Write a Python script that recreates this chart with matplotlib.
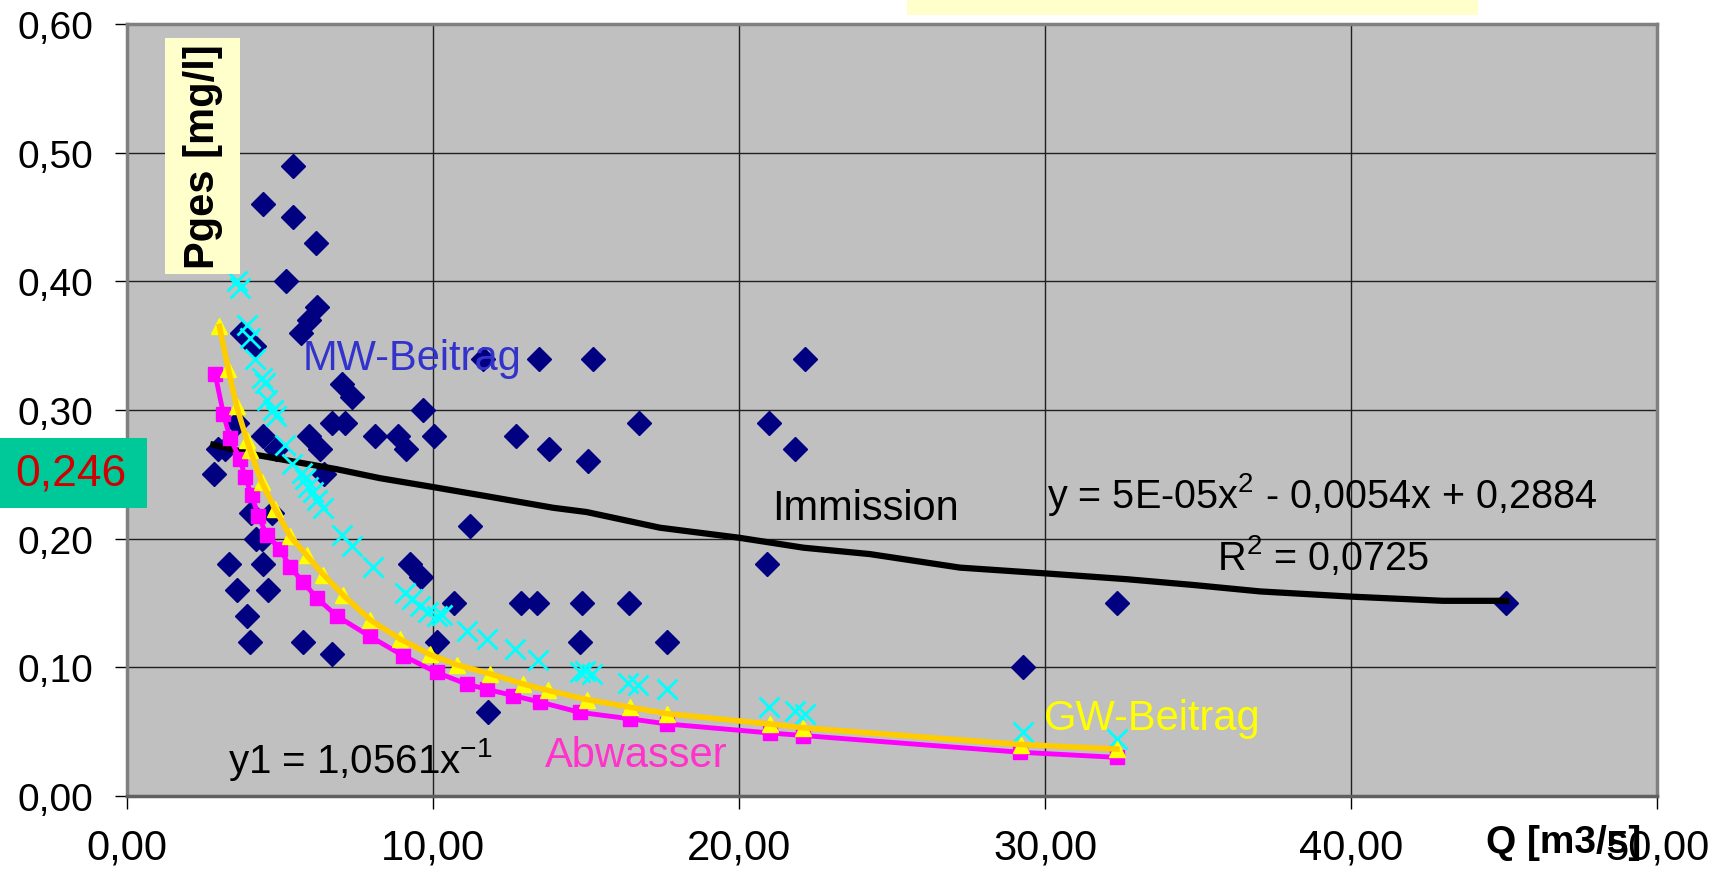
import numpy as np
import matplotlib.pyplot as plt
from matplotlib.patches import Rectangle
from matplotlib.ticker import FuncFormatter, MultipleLocator

plt.rcParams['font.family'] = ['Liberation Sans', 'DejaVu Sans']
plt.rcParams['mathtext.fontset'] = 'custom'
plt.rcParams['mathtext.rm'] = 'Liberation Sans'
plt.rcParams['mathtext.default'] = 'regular'

# Messwerte Immission (Q in m3/s, Pges in mg/l)
imm_q = [5.43, 4.43, 5.43, 6.18, 5.19, 6.20, 5.95, 5.69, 3.75, 4.16, 11.64, 13.46, 15.23, 22.17,
         7.04, 7.36, 9.68, 6.71, 7.12, 3.60, 16.73, 20.99, 4.45, 5.94, 8.10, 8.85, 10.04, 12.71,
         2.98, 3.20, 4.87, 6.30, 9.12, 13.80, 21.83, 15.06, 2.84, 6.44, 4.04, 4.75, 11.20, 4.20,
         4.40, 3.34, 4.45, 9.26, 20.90, 9.62, 3.59, 4.60, 10.70, 12.87, 13.39, 14.87, 16.39,
         32.36, 45.07, 3.93, 4.02, 5.75, 10.12, 14.80, 17.65, 6.69, 29.27, 11.79]
imm_p = [0.49, 0.46, 0.45, 0.43, 0.40, 0.38, 0.37, 0.36, 0.36, 0.35, 0.34, 0.34, 0.34, 0.34,
         0.32, 0.31, 0.30, 0.29, 0.29, 0.29, 0.29, 0.29, 0.28, 0.28, 0.28, 0.28, 0.28, 0.28,
         0.27, 0.27, 0.27, 0.27, 0.27, 0.27, 0.27, 0.26, 0.25, 0.25, 0.22, 0.22, 0.21, 0.20,
         0.20, 0.18, 0.18, 0.18, 0.18, 0.17, 0.16, 0.16, 0.15, 0.15, 0.15, 0.15, 0.15,
         0.15, 0.15, 0.14, 0.12, 0.12, 0.12, 0.12, 0.12, 0.11, 0.10, 0.065]

# Trendlinie Immission
trend_q = [2.82, 4.13, 5.43, 6.85, 8.27, 10.03, 11.75, 13.93, 15.02, 17.42, 19.98, 22.10, 24.28,
           27.22, 30.02, 32.67, 34.85, 37.03, 39.97, 43.00, 45.07]
trend_p = [0.273, 0.2655, 0.260, 0.254, 0.247, 0.240, 0.233, 0.224, 0.2207, 0.2085, 0.2008, 0.193,
           0.188, 0.1775, 0.173, 0.1685, 0.164, 0.159, 0.155, 0.1517, 0.1517]

# MW-Beitrag
mw_q = [3.58, 3.69, 3.91, 4.02, 4.18, 4.40, 4.51, 4.56, 4.78, 4.87, 5.16, 5.38, 5.71, 5.82, 5.93,
        6.09, 6.20, 6.39, 7.02, 7.34, 8.05, 9.08, 9.30, 9.58, 9.85, 10.12, 10.28, 11.10, 11.75,
        12.68, 13.44, 14.80, 14.97, 15.19, 16.38, 16.71, 17.64, 20.99, 21.83, 22.16, 29.27, 32.36]
mw_p = [0.400, 0.395, 0.366, 0.356, 0.340, 0.325, 0.321, 0.308, 0.300, 0.295, 0.273, 0.258, 0.251,
        0.246, 0.240, 0.236, 0.230, 0.224, 0.203, 0.194, 0.178, 0.158, 0.153, 0.148, 0.143, 0.140,
        0.141, 0.128, 0.122, 0.114, 0.106, 0.096, 0.097, 0.095, 0.088, 0.086, 0.083, 0.069, 0.066,
        0.064, 0.050, 0.044]

# Abwasser
abw_q = [2.88, 3.15, 3.37, 3.69, 3.86, 4.07, 4.29, 4.56, 5.00, 5.33, 5.76, 6.20, 6.85, 7.94, 9.03,
         10.12, 11.10, 11.75, 12.63, 13.50, 14.80, 16.44, 17.64, 21.00, 22.10, 29.19, 32.35]
abw_p = [0.328, 0.297, 0.278, 0.262, 0.248, 0.234, 0.218, 0.203, 0.192, 0.178, 0.166, 0.154, 0.140,
         0.124, 0.109, 0.096, 0.087, 0.083, 0.078, 0.073, 0.065, 0.060, 0.056, 0.049, 0.047, 0.034,
         0.030]

# GW-Beitrag
gw_q = [3.02, 3.31, 3.58, 3.91, 4.02, 4.40, 4.84, 5.33, 5.87, 6.42, 7.07, 7.94, 8.92, 9.90, 10.77,
        11.86, 12.95, 13.77, 15.02, 16.44, 17.64, 21.00, 22.10, 29.20, 32.35]
gw_p = [0.365, 0.332, 0.303, 0.277, 0.269, 0.244, 0.223, 0.202, 0.187, 0.172, 0.156, 0.137, 0.122,
        0.110, 0.102, 0.095, 0.087, 0.082, 0.075, 0.069, 0.064, 0.056, 0.053, 0.040, 0.0365]

W, H = 1719, 878
fig = plt.figure(figsize=(W / 100, H / 100), dpi=100)
ax = fig.add_axes([127 / W, 1 - 797 / H, (1657 - 127) / W, (797 - 25) / H])
ax.set_facecolor('#C0C0C0')
ax.set_xlim(0, 50)
ax.set_ylim(0, 0.6)
ax.xaxis.set_major_locator(MultipleLocator(10))
ax.yaxis.set_major_locator(MultipleLocator(0.1))
ax.xaxis.set_major_formatter(FuncFormatter(lambda v, p: f"{v:.2f}".replace('.', ',')))
ax.yaxis.set_major_formatter(FuncFormatter(lambda v, p: f"{v:.2f}".replace('.', ',')))
ax.grid(True, color='#202020', linewidth=1.0)
ax.set_axisbelow(True)
for s in ax.spines.values():
    s.set_color('#808080')
    s.set_linewidth(2.5)
ax.spines['bottom'].set_color('#606060')
ax.tick_params(axis='both', direction='out', length=9, width=1, color='black')
ax.tick_params(axis='y', pad=15, labelsize=28)
ax.tick_params(axis='x', pad=14, labelsize=30)

# Datenreihen
ax.plot(imm_q, imm_p, ls='none', marker='D', ms=12, color='#000080', zorder=3)
ax.plot(trend_q, trend_p, color='black', lw=4.5, zorder=4)
ax.plot(mw_q, mw_p, ls='none', marker='x', ms=14, mew=2, color='#00FFFF', zorder=5)
ax.plot(abw_q, abw_p, ls='none', marker='s', ms=10, color='#FF00FF', zorder=6)
ax.plot(abw_q, abw_p, color='#FF00FF', lw=3.5, zorder=6)
ax.plot(gw_q, gw_p, ls='none', marker='^', ms=12, color='#FFFF00', zorder=7)
ax.plot(gw_q, gw_p, color='#FFCC00', lw=4, zorder=7)

# Beschriftungen
ax.text(5.75, 0.3315, 'MW-Beitrag', color='#3333CC', fontsize=30, zorder=8)
ax.text(21.08, 0.215, 'Immission', color='black', fontsize=30, zorder=8)
ax.text(30.07, 0.2244, 'y = 5E-05x$^{2}$ - 0,0054x + 0,2884', color='black', fontsize=28.5, zorder=8)
ax.text(35.62, 0.1762, 'R$^{2}$ = 0,0725', color='black', fontsize=28.5, zorder=8)
ax.text(3.3, 0.0186, 'y1 = 1,0561x$^{-1}$', color='black', fontsize=29, zorder=8)
ax.text(13.66, 0.0233, 'Abwasser', color='#FF33CC', fontsize=30, zorder=8)
ax.text(29.97, 0.052, 'GW-Beitrag', color='#FFFF00', fontsize=30, zorder=8)

# Kästen
fig.add_artist(Rectangle((907 / W, 1 - 16 / H), (1478 - 907) / W, 16 / H,
                         transform=fig.transFigure, facecolor='#FFFFCC', edgecolor='none', zorder=5))
fig.add_artist(Rectangle((165 / W, 1 - 275 / H), 75 / W, (275 - 39) / H,
                         transform=fig.transFigure, facecolor='#FFFFCC', edgecolor='none', zorder=5))
fig.text(203 / W, 1 - 157 / H, 'Pges [mg/l]', rotation=90, ha='center', va='center',
         fontsize=30, fontweight='bold', zorder=6)
fig.add_artist(Rectangle((0, 1 - 509 / H), 147 / W, 70 / H,
                         transform=fig.transFigure, facecolor='#00C999', edgecolor='none', zorder=5))
fig.text(15 / W, 1 - 474 / H, '0,246', ha='left', va='center', fontsize=32, color='#D00000', zorder=6)
fig.text(1486 / W, 1 - 853 / H, 'Q [m3/s]', ha='left', va='baseline', fontsize=28,
         fontweight='bold', zorder=6)

fig.savefig('out.png', dpi=100)
